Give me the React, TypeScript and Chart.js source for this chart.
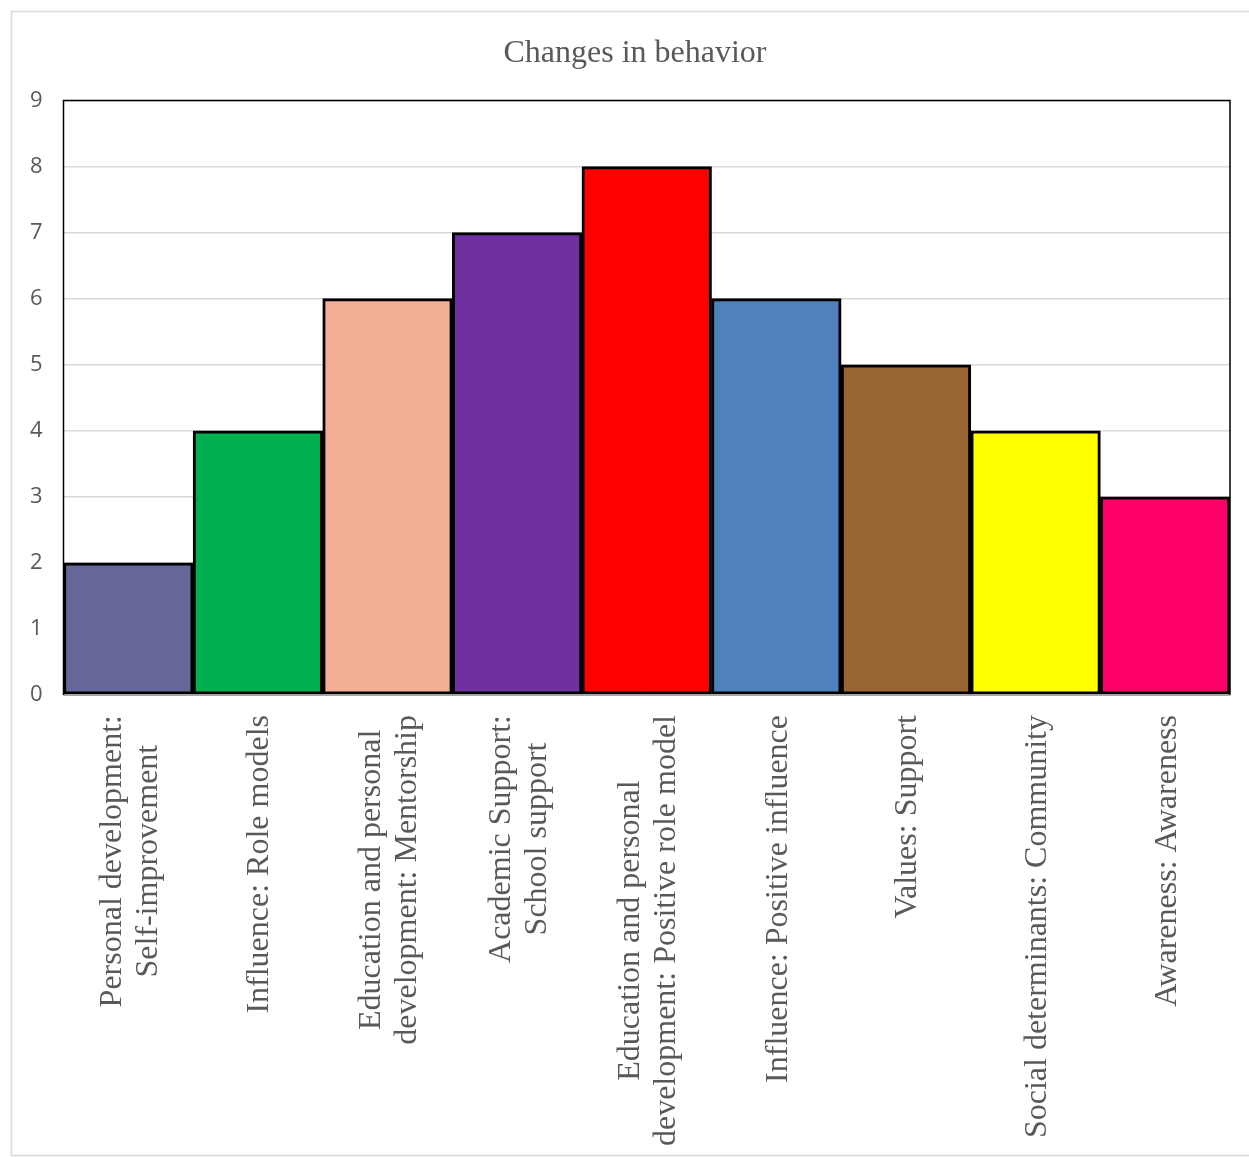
import React, { useEffect, useRef } from "react";
import { Chart, registerables } from "chart.js";

Chart.register(...registerables);

const chartTitle = "Changes in behavior";

const categories: string[][] = [
  ["Personal development:", "Self-improvement"],
  ["Influence: Role models"],
  ["Education and personal", "development: Mentorship"],
  ["Academic Support:", "School support"],
  ["Education and personal", "development: Positive role model"],
  ["Influence: Positive influence"],
  ["Values: Support"],
  ["Social determinants: Community"],
  ["Awareness: Awareness"],
];

const counts = [2, 4, 6, 7, 8, 6, 5, 4, 3];

const barColors = [
  "#666699",
  "#00B050",
  "#F3AF95",
  "#7030A0",
  "#FF0000",
  "#4F81BD",
  "#996633",
  "#FFFF00",
  "#FF0066",
];

const yTicks = [0, 1, 2, 3, 4, 5, 6, 7, 8, 9];

const TEXT_GRAY = "#595959";
const SERIF = '"Liberation Serif", "Times New Roman", serif';
const LABEL_FONT = `32px ${SERIF}`;
const LINE_H = 36;

// Light outer frame around the whole chart
const outerFrame = {
  id: "outerFrame",
  beforeDraw(chart: Chart) {
    const ctx = chart.ctx;
    ctx.save();
    ctx.strokeStyle = "#d9d9d9";
    ctx.lineWidth = 1.5;
    ctx.strokeRect(11.5, 11.5, chart.width + 20, chart.height - 13);
    ctx.restore();
  },
};

// Chart heading, centred over the framed area
const heading = {
  id: "heading",
  afterDraw(chart: Chart) {
    const ctx = chart.ctx;
    ctx.save();
    ctx.font = `32px ${SERIF}`;
    ctx.fillStyle = TEXT_GRAY;
    ctx.textAlign = "center";
    ctx.textBaseline = "alphabetic";
    ctx.fillText(chartTitle, 635, 62);
    ctx.restore();
  },
};

// Black border around the plot area
const plotFrame = {
  id: "plotFrame",
  beforeDatasetsDraw(chart: Chart) {
    const { ctx, chartArea: a } = chart;
    ctx.save();
    ctx.strokeStyle = "#000000";
    ctx.lineWidth = 1.5;
    ctx.beginPath();
    ctx.moveTo(a.left, a.bottom);
    ctx.lineTo(a.left, a.top);
    ctx.lineTo(a.right, a.top);
    ctx.lineTo(a.right, a.bottom);
    ctx.stroke();
    ctx.strokeStyle = "#a6a6a6";
    ctx.lineWidth = 1;
    ctx.beginPath();
    ctx.moveTo(a.left, a.bottom + 0.5);
    ctx.lineTo(a.right, a.bottom + 0.5);
    ctx.stroke();
    ctx.restore();
  },
};

// Vertical category labels, lines centred on each other
const categoryLabels = {
  id: "categoryLabels",
  afterDraw(chart: Chart) {
    const ctx = chart.ctx;
    const xs = chart.scales.x;
    const top = chart.chartArea.bottom + 20;
    ctx.save();
    ctx.font = LABEL_FONT;
    ctx.fillStyle = TEXT_GRAY;
    ctx.textAlign = "center";
    ctx.textBaseline = "middle";
    categories.forEach((lines, i) => {
      const cx = xs.getPixelForValue(i);
      const maxW = Math.max(...lines.map((l) => ctx.measureText(l).width));
      const n = lines.length;
      lines.forEach((line, j) => {
        const x = cx + (j - (n - 1) / 2) * LINE_H + 2;
        ctx.save();
        ctx.translate(x, top + maxW / 2);
        ctx.rotate(-Math.PI / 2);
        ctx.fillText(line, 0, 0);
        ctx.restore();
      });
    });
    ctx.restore();
  },
};

export default function App() {
  const ref = useRef<HTMLCanvasElement>(null);

  useEffect(() => {
    if (!ref.current) return;
    const chart = new Chart(ref.current, {
      type: "bar",
      data: {
        labels: categories.map((c) => c.join(" ")),
        datasets: [
          {
            data: counts,
            backgroundColor: barColors,
            borderColor: "#000000",
            borderWidth: 3,
            borderSkipped: false,
            barPercentage: 1,
            categoryPercentage: 1,
          },
        ],
      },
      options: {
        responsive: false,
        animation: false,
        layout: { padding: { top: 100.5, right: 19, bottom: 0, left: 0 } },
        plugins: {
          legend: { display: false },
          tooltip: { enabled: false },
          title: { display: false },
        },
        scales: {
          x: {
            grid: { display: false },
            border: { display: false },
            ticks: { display: false },
            afterFit(scale: any) {
              scale.height = 462;
            },
          },
          y: {
            min: yTicks[0],
            max: yTicks[yTicks.length - 1],
            afterBuildTicks(scale: any) {
              scale.ticks = yTicks.map((v) => ({ value: v }));
            },
            afterFit(scale: any) {
              scale.width = 63.5;
            },
            grid: { color: "#d9d9d9", lineWidth: 1.5, drawTicks: false },
            border: { display: false },
            ticks: {
              padding: 21,
              color: TEXT_GRAY,
              font: { family: '"Open Sans", sans-serif', size: 22 },
            },
          },
        },
      },
      plugins: [outerFrame, plotFrame, categoryLabels, heading],
    });
    return () => chart.destroy();
  }, []);

  return (
    <div style={{ position: "fixed", left: 0, top: 0, width: 1249, height: 1157, background: "#ffffff" }}>
      <canvas ref={ref} width={1249} height={1157} style={{ display: "block" }} />
    </div>
  );
}
